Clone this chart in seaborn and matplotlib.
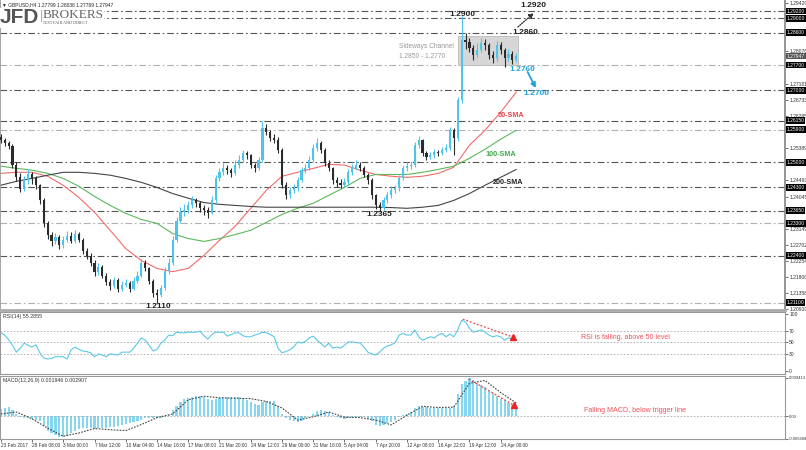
import numpy as np
import seaborn as sns
import matplotlib.pyplot as plt

# GBPUSD H4 chart (one candle = two H4 bars)
first_open = 1.2570
closes = [1.2561, 1.2553, 1.2545, 1.2492, 1.2460, 1.2425, 1.2450, 1.2466, 1.2455, 1.2436,
          1.2394, 1.2330, 1.2297, 1.2280, 1.2292, 1.2269, 1.2285, 1.2295, 1.2282, 1.2300,
          1.2285, 1.2252, 1.2240, 1.2221, 1.2194, 1.2208, 1.2185, 1.2166, 1.2157, 1.2172,
          1.2149, 1.2160, 1.2165, 1.2148, 1.2170, 1.2185, 1.2221, 1.2205, 1.2170, 1.2138,
          1.2132, 1.2150, 1.2199, 1.2220, 1.2285, 1.2338, 1.2361, 1.2366, 1.2380, 1.2394,
          1.2386, 1.2372, 1.2366, 1.2360, 1.2394, 1.2455, 1.2472, 1.2483, 1.2478, 1.2470,
          1.2492, 1.2506, 1.2525, 1.2519, 1.2492, 1.2483, 1.2506, 1.2594, 1.2583, 1.2567,
          1.2561, 1.2533, 1.2436, 1.2408, 1.2422, 1.2427, 1.2450, 1.2478, 1.2483, 1.2506,
          1.2539, 1.2553, 1.2533, 1.2497, 1.2483, 1.2450, 1.2441, 1.2436, 1.2444, 1.2472,
          1.2483, 1.2492, 1.2483, 1.2464, 1.2450, 1.2408, 1.2380, 1.2372, 1.2394, 1.2408,
          1.2422, 1.2427, 1.2455, 1.2483, 1.2489, 1.2492, 1.2547, 1.2561, 1.2525, 1.2514,
          1.2519, 1.2528, 1.2525, 1.2533, 1.2539, 1.2589, 1.2567, 1.2672, 1.2839, 1.2834,
          1.2817, 1.2798, 1.2812, 1.2830, 1.2825, 1.2798, 1.2789, 1.2825, 1.2812, 1.2789,
          1.2800, 1.2784, 1.2795]
highs = [1.2578, 1.2568, 1.2560, 1.2550, 1.2500, 1.2470, 1.2462, 1.2480, 1.2472, 1.2462,
         1.2440, 1.2400, 1.2338, 1.2305, 1.2302, 1.2298, 1.2296, 1.2310, 1.2305, 1.2312,
         1.2306, 1.2290, 1.2262, 1.2248, 1.2228, 1.2220, 1.2214, 1.2192, 1.2175, 1.2182,
         1.2178, 1.2170, 1.2175, 1.2170, 1.2180, 1.2198, 1.2232, 1.2228, 1.2210, 1.2175,
         1.2148, 1.2160, 1.2210, 1.2235, 1.2295, 1.2348, 1.2375, 1.2385, 1.2392, 1.2405,
         1.2400, 1.2392, 1.2380, 1.2375, 1.2405, 1.2465, 1.2485, 1.2498, 1.2492, 1.2485,
         1.2505, 1.2520, 1.2535, 1.2532, 1.2524, 1.2498, 1.2515, 1.2615, 1.2605, 1.2590,
         1.2578, 1.2570, 1.2540, 1.2445, 1.2432, 1.2440, 1.2460, 1.2488, 1.2495, 1.2518,
         1.2550, 1.2568, 1.2560, 1.2540, 1.2505, 1.2488, 1.2458, 1.2452, 1.2455, 1.2482,
         1.2495, 1.2505, 1.2500, 1.2490, 1.2470, 1.2455, 1.2412, 1.2390, 1.2402, 1.2418,
         1.2432, 1.2438, 1.2465, 1.2492, 1.2500, 1.2502, 1.2555, 1.2572, 1.2565, 1.2530,
         1.2528, 1.2536, 1.2535, 1.2542, 1.2550, 1.2598, 1.2595, 1.2680, 1.2905, 1.2858,
         1.2845, 1.2825, 1.2830, 1.2845, 1.2842, 1.2830, 1.2808, 1.2838, 1.2835, 1.2818,
         1.2815, 1.2808, 1.2804]
lows = [1.2552, 1.2545, 1.2536, 1.2485, 1.2448, 1.2418, 1.2420, 1.2440, 1.2440, 1.2425,
        1.2385, 1.2320, 1.2288, 1.2268, 1.2272, 1.2258, 1.2262, 1.2278, 1.2275, 1.2276,
        1.2278, 1.2245, 1.2230, 1.2212, 1.2185, 1.2188, 1.2178, 1.2158, 1.2146, 1.2150,
        1.2140, 1.2142, 1.2152, 1.2140, 1.2144, 1.2165, 1.2180, 1.2198, 1.2162, 1.2125,
        1.2109, 1.2125, 1.2145, 1.2190, 1.2215, 1.2278, 1.2330, 1.2350, 1.2358, 1.2372,
        1.2375, 1.2362, 1.2352, 1.2345, 1.2355, 1.2388, 1.2448, 1.2465, 1.2468, 1.2460,
        1.2465, 1.2485, 1.2500, 1.2508, 1.2485, 1.2472, 1.2478, 1.2500, 1.2575, 1.2560,
        1.2552, 1.2525, 1.2428, 1.2398, 1.2400, 1.2415, 1.2420, 1.2445, 1.2470, 1.2478,
        1.2500, 1.2532, 1.2525, 1.2490, 1.2475, 1.2440, 1.2432, 1.2428, 1.2430, 1.2440,
        1.2465, 1.2478, 1.2475, 1.2458, 1.2440, 1.2398, 1.2370, 1.2365, 1.2368, 1.2388,
        1.2400, 1.2415, 1.2420, 1.2450, 1.2475, 1.2480, 1.2488, 1.2540, 1.2518, 1.2505,
        1.2508, 1.2512, 1.2518, 1.2520, 1.2528, 1.2535, 1.2520, 1.2560, 1.2665, 1.2815,
        1.2805, 1.2785, 1.2792, 1.2805, 1.2812, 1.2788, 1.2775, 1.2782, 1.2800, 1.2765,
        1.2780, 1.2772, 1.2777]

rsi = [67, 63, 55, 45, 33, 40, 49, 45, 42, 46,
       32, 23, 21, 22, 25, 25, 25, 21, 37, 42,
       38, 35, 34, 32, 25, 30, 28, 25, 30, 29,
       28, 33, 33, 33, 40, 49, 58, 54, 45, 35,
       38, 49, 54, 63, 62, 68, 67, 67, 68, 68,
       68, 70, 62, 56, 64, 68, 68, 68, 61, 64,
       67, 67, 62, 60, 60, 63, 65, 68, 67, 64,
       60, 40, 32, 34, 37, 42, 51, 49, 52, 58,
       61, 54, 48, 42, 49, 40, 42, 40, 45, 51,
       51, 50, 49, 42, 33, 30, 28, 33, 40, 44,
       46, 50, 63, 66, 63, 63, 72, 60, 54, 57,
       60, 58, 63, 66, 60, 65, 60, 72, 89, 86,
       75, 68, 70, 72, 68, 63, 60, 62, 60, 54,
       58, 56, 55.3]

macd_hist = [0.0018, 0.0020, 0.0022, 0.0015, 0.0005, -0.0003, -0.0005, -0.0006, -0.0008, -0.0010,
             -0.0013, -0.0025, -0.0037, -0.0043, -0.0047, -0.0051, -0.0052, -0.0049, -0.0043, -0.0037,
             -0.0032, -0.0030, -0.0030, -0.0030, -0.0031, -0.0030, -0.0030, -0.0029, -0.0027, -0.0026,
             -0.0024, -0.0022, -0.0020, -0.0018, -0.0016, -0.0013, -0.0011, -0.0005, -0.0004, -0.0005,
             -0.0006, -0.0004, -0.0003, 0.0002, 0.0015, 0.0025, 0.0035, 0.0042, 0.0045, 0.0047,
             0.0049, 0.0050, 0.0047, 0.0042, 0.0040, 0.0042, 0.0045, 0.0047, 0.0046, 0.0046,
             0.0046, 0.0046, 0.0044, 0.0040, 0.0035, 0.0030, 0.0028, 0.0035, 0.0037, 0.0037,
             0.0036, 0.0025, 0.0005, -0.0004, -0.0009, -0.0013, -0.0015, -0.0012, -0.0006, -0.0001,
             0.0006, 0.0012, 0.0015, 0.0012, 0.0009, 0.0003, -0.0002, -0.0005, -0.0007, -0.0006,
             -0.0004, -0.0002, -0.0002, -0.0003, -0.0007, -0.0012, -0.0022, -0.0025, -0.0022, -0.0018,
             -0.0015, -0.0009, -0.0002, 0.0002, 0.0006, 0.0010, 0.0020, 0.0025, 0.0023, 0.0022,
             0.0021, 0.0020, 0.0020, 0.0020, 0.0020, 0.0021, 0.0024, 0.0055, 0.0080, 0.0087,
             0.0094, 0.0088, 0.0082, 0.0077, 0.0071, 0.0063, 0.0057, 0.0049, 0.0043, 0.0039,
             0.0032, 0.0026, 0.0022]

# moving averages and MACD signal, read every 4th candle
sma50 = [1.2469, 1.2472, 1.2472, 1.2461, 1.2436, 1.2402, 1.2361, 1.2311, 1.2260, 1.2227,
         1.2205, 1.2196, 1.2205, 1.2241, 1.2283, 1.2322, 1.2372, 1.2422, 1.2461, 1.2472,
         1.2483, 1.2494, 1.2492, 1.2478, 1.2466, 1.2461, 1.2458, 1.2461, 1.2469, 1.2486,
         1.2547, 1.2589, 1.2639, 1.2695]
sma100 = [1.2489, 1.2483, 1.2478, 1.2469, 1.2455, 1.2433, 1.2405, 1.2380, 1.2358, 1.2341,
          1.2330, 1.2302, 1.2288, 1.2280, 1.2288, 1.2299, 1.2311, 1.2333, 1.2355, 1.2372,
          1.2386, 1.2408, 1.2430, 1.2455, 1.2466, 1.2466, 1.2466, 1.2472, 1.2480, 1.2489,
          1.2511, 1.2536, 1.2564, 1.2589]
sma200 = [1.2436, 1.2447, 1.2455, 1.2464, 1.2472, 1.2472, 1.2469, 1.2464, 1.2455, 1.2444,
          1.2430, 1.2413, 1.2400, 1.2388, 1.2383, 1.2380, 1.2377, 1.2375, 1.2375, 1.2375,
          1.2375, 1.2375, 1.2375, 1.2375, 1.2375, 1.2374, 1.2372, 1.2375, 1.2380, 1.2394,
          1.2413, 1.2436, 1.2458, 1.2480]
macd_signal = [0.0005, 0.0010, -0.0007, -0.0030, -0.0050, -0.0042, -0.0031, -0.0034, -0.0036, -0.0021,
               -0.0004, 0.0005, 0.0040, 0.0049, 0.0045, 0.0044, 0.0043, 0.0036, 0.0020, -0.0010,
               -0.0002, 0.0010, -0.0003, -0.0004, -0.0010, -0.0022, 0.0002, 0.0024, 0.0021, 0.0022,
               0.0081, 0.0088, 0.0058, 0.0032]

date_labels = ['23 Feb 2017', '28 Feb 08:00', '3 Mar 00:00', '7 Mar 12:00', '10 Mar 04:00',
               '14 Mar 16:00', '17 Mar 08:00', '21 Mar 20:00', '24 Mar 12:00', '29 Mar 00:00',
               '31 Mar 16:00', '5 Apr 04:00', '7 Apr 20:00', '12 Apr 08:00', '16 Apr 22:00',
               '19 Apr 12:00', '24 Apr 00:00']

dark_levels = [1.2920, 1.2900, 1.2860, 1.2700, 1.2615, 1.2500, 1.2430, 1.2365, 1.2240]
light_levels = [1.2770, 1.2590, 1.2330, 1.2110]
last_price = 1.27947
channel_top, channel_bottom = 1.2850, 1.2770

sns.set_theme(style='white')
plt.rcParams['font.family'] = ['Liberation Sans', 'DejaVu Sans']

W, H = 806, 450
fig = plt.figure(figsize=(W / 100, H / 100), dpi=100)
ax = fig.add_axes([0, 1 - 310 / H, 785 / W, 310 / H])
ax_rsi = fig.add_axes([0, 1 - 374 / H, 785 / W, 62 / H])
ax_macd = fig.add_axes([0, 1 - 439 / H, 785 / W, 63 / H])

n = len(closes)
idx = np.arange(n)
opens = np.array([first_open] + closes[:-1])
closes_a = np.array(closes)
bull = closes_a >= opens
bull_col, bear_col = '#4fc4ea', '#2b2b2b'
cols = np.where(bull, bull_col, bear_col)
ma_x = np.arange(0, n, 4)

# --- main price panel ---
ax.add_patch(plt.Rectangle((117, channel_bottom), 15.4, channel_top - channel_bottom,
                           facecolor='#d6d6d6', edgecolor='#bbbbbb', lw=0.6, zorder=1))
for lv in dark_levels:
    ax.axhline(lv, color='#555555', lw=0.8, ls=(0, (6, 2.5, 1.5, 2.5)), zorder=0.5)
for lv in light_levels:
    ax.axhline(lv, color='#b0b0b0', lw=0.8, ls=(0, (6, 2.5, 1.5, 2.5)), zorder=0.5)

ax.vlines(idx, lows, highs, colors=cols, lw=0.8, zorder=3)
body = np.maximum(np.abs(closes_a - opens), 0.00012)
ax.bar(idx, body, bottom=np.minimum(opens, closes_a), width=0.55, color=cols, lw=0, zorder=3)

sns.lineplot(x=ma_x, y=sma50, ax=ax, color='#f26b6b', lw=0.8, zorder=2)
sns.lineplot(x=ma_x, y=sma100, ax=ax, color='#5cb85c', lw=0.8, zorder=2)
sns.lineplot(x=ma_x, y=sma200, ax=ax, color='#444444', lw=0.8, zorder=2)

ax.set_xlim(-0.2, 200.8)
ax.set_ylim(1.29506 - 310 / 3600, 1.29506)
boxed = dark_levels + light_levels + [last_price]
yt = [v for v in np.linspace(1.20910, 1.29420, 20)
      if min(abs(v - b) for b in boxed) > 0.0011]
ax.set_yticks(yt)
ax.set_yticklabels(['%.5f' % v for v in yt])
ax.yaxis.tick_right()
ax.tick_params(axis='y', labelsize=3.6, length=2, pad=1, colors='#333333', width=0.5)
ax.set_xticks([])
ax.set_xlabel('')
ax.set_ylabel('')
ax.spines['top'].set_visible(False)
ax.spines['left'].set_color('#999999')
ax.spines['right'].set_color('#888888')
ax.spines['bottom'].set_color('#aaaaaa')
ax.spines['bottom'].set_linewidth(2)

for lv in dark_levels + light_levels:
    ax.text(1.002, lv, '%.5f' % lv, transform=ax.get_yaxis_transform(), fontsize=3.6, color='white',
            va='center', ha='left', clip_on=False, zorder=10,
            bbox=dict(facecolor='black', edgecolor='none', pad=0.6))
ax.text(1.002, last_price, '%.5f' % last_price, transform=ax.get_yaxis_transform(), fontsize=3.6,
        color='white', va='center', ha='left', clip_on=False, zorder=10,
        bbox=dict(facecolor='#555555', edgecolor='none', pad=0.6))

bold = dict(fontsize=6, fontweight='bold', ha='center', va='center', zorder=6)
ax.text(118.3, 1.29117, '1.2900', color='#222222', **bold)
ax.text(136.5, 1.2934, '1.2920', color='#222222', **bold)
ax.text(134.2, 1.28617, '1.2860', color='#222222', **bold)
ax.text(133.6, 1.27589, '1.2760', color='#1fa3dc', **bold)
ax.text(137.2, 1.26895, '1.2700', color='#1fa3dc', **bold)
ax.text(96.8, 1.23534, '1.2365', color='#222222', **bold)
ax.text(40.2, 1.21006, '1.2110', color='#222222', **bold)
ax.text(130.6, 1.26284, '50-SMA', color='#e8434b', **dict(bold, fontsize=5.2))
ax.text(128.0, 1.25201, '100-SMA', color='#3fa64a', **dict(bold, fontsize=5.2))
ax.text(129.8, 1.24423, '200-SMA', color='#222222', **dict(bold, fontsize=5.2))
ax.text(102.0, 1.28228, 'Sideways Channel', color='#999999', fontsize=4.8, va='center')
ax.text(102.0, 1.27950, '1.2850 - 1.2770', color='#999999', fontsize=4.8, va='center')

ax.annotate('', xy=(136.5, 1.29145), xytext=(132.4, 1.28756),
            arrowprops=dict(arrowstyle='-|>', color='#333333', lw=0.9, ls=(0, (1, 1)),
                            mutation_scale=7, shrinkA=0, shrinkB=0))
ax.annotate('', xy=(137.0, 1.27062), xytext=(134.9, 1.27506),
            arrowprops=dict(arrowstyle='-|>', color='#1fa3dc', lw=1.3,
                            mutation_scale=7, shrinkA=0, shrinkB=0))

# --- RSI panel ---
for lv in [30, 50, 70]:
    ax_rsi.axhline(lv, color='#aaaaaa', lw=0.6, ls=(0, (2, 2)))
sns.lineplot(x=idx, y=rsi, ax=ax_rsi, color='#5ac8ea', lw=0.8)
ax_rsi.plot([118.3, 131.1], [91, 59.6], ls=(0, (1.5, 1.5)), color='#ee4444', lw=0.9)
ax_rsi.plot(131.1, 59.6, marker='^', ms=4.5, color='#ee2222', mec='#ee2222')
ax_rsi.text(148.5, 57.9, 'RSI is falling, above 50 level', color='#f0505a', fontsize=5.0, va='center')
ax_rsi.text(0.004, 0.93, 'RSI(14) 55.2855', transform=ax_rsi.transAxes, fontsize=3.8,
            color='#333333', va='center')
ax_rsi.set_xlim(-0.2, 200.8)
ax_rsi.set_ylim(-5.3, 103.5)
ax_rsi.set_yticks([0, 30, 50, 70, 100])
ax_rsi.yaxis.tick_right()

# --- MACD panel ---
ax_macd.axhline(0, color='#aaaaaa', lw=0.6, ls=(0, (2, 2)))
ax_macd.bar(idx, macd_hist, width=0.55, color='#86d6ef', lw=0)
sns.lineplot(x=ma_x, y=macd_signal, ax=ax_macd, color='#444444', lw=0.8, ls=(0, (1.5, 1.2)))
ax_macd.plot([119.8, 131.3], [0.00916, 0.00272], ls=(0, (1.5, 1.5)), color='#ee4444', lw=0.9)
ax_macd.plot(131.3, 0.00272, marker='^', ms=4.5, color='#ee2222', mec='#ee2222')
ax_macd.text(149.3, 0.00124, 'Falling MACD, below trigger line', color='#f0505a', fontsize=5.1,
             va='center')
ax_macd.text(0.004, 0.93, 'MACD(12,26,9) 0.001946 0.002907', transform=ax_macd.transAxes,
             fontsize=3.8, color='#333333', va='center')
ax_macd.set_xlim(-0.2, 200.8)
ax_macd.set_ylim(-0.00569, 0.0099)
ax_macd.set_yticks([-0.005668, 0, 0.009413])
ax_macd.set_yticklabels(['-0.005668', '0.00', '0.009413'])
ax_macd.yaxis.tick_right()
ax_macd.set_xticks(np.arange(len(date_labels)) * 8)
ax_macd.set_xticklabels(date_labels, ha='left')

for a in [ax_rsi, ax_macd]:
    a.set_xlabel('')
    a.set_ylabel('')
    a.tick_params(axis='y', labelsize=3.6, length=2, pad=1, colors='#333333', width=0.5)
    for s in a.spines.values():
        s.set_color('#999999')
        s.set_linewidth(0.8)
ax_macd.tick_params(axis='y', labelsize=3.0)
ax_rsi.set_xticks([])
ax_macd.tick_params(axis='x', labelsize=3.4, length=2, pad=1, colors='#333333', width=0.5,
                    bottom=True)

# header and logo
fig.text(2 / W, 1 - 5 / H, '\u25bc GBPUSD,H4 1.27799 1.28038 1.27769 1.27947', fontsize=3.5,
         va='center', color='#222222', family=['Liberation Sans', 'DejaVu Sans'])
fig.patches.append(plt.Rectangle((0, 1 - 28 / H), 104 / W, 20 / H, transform=fig.transFigure,
                                 facecolor='white', edgecolor='none', zorder=5))
fig.text(0 / W, 1 - 17.5 / H, 'JFD', fontsize=15, fontweight='bold', color='#555555',
         va='center', zorder=6)
fig.text(39.5 / W, 1 - 16 / H, '|', fontsize=9, color='#aaaaaa', va='center', zorder=6)
fig.text(43 / W, 1 - 15 / H, 'BROKERS', family='Liberation Serif', fontsize=9.5,
         color='#666666', va='center', zorder=6)
fig.text(43 / W, 1 - 23 / H, 'JUST FAIR AND DIRECT', family='Liberation Serif', fontsize=3,
         color='#555555', va='center', zorder=6)

fig.savefig('out.png', dpi=100)
